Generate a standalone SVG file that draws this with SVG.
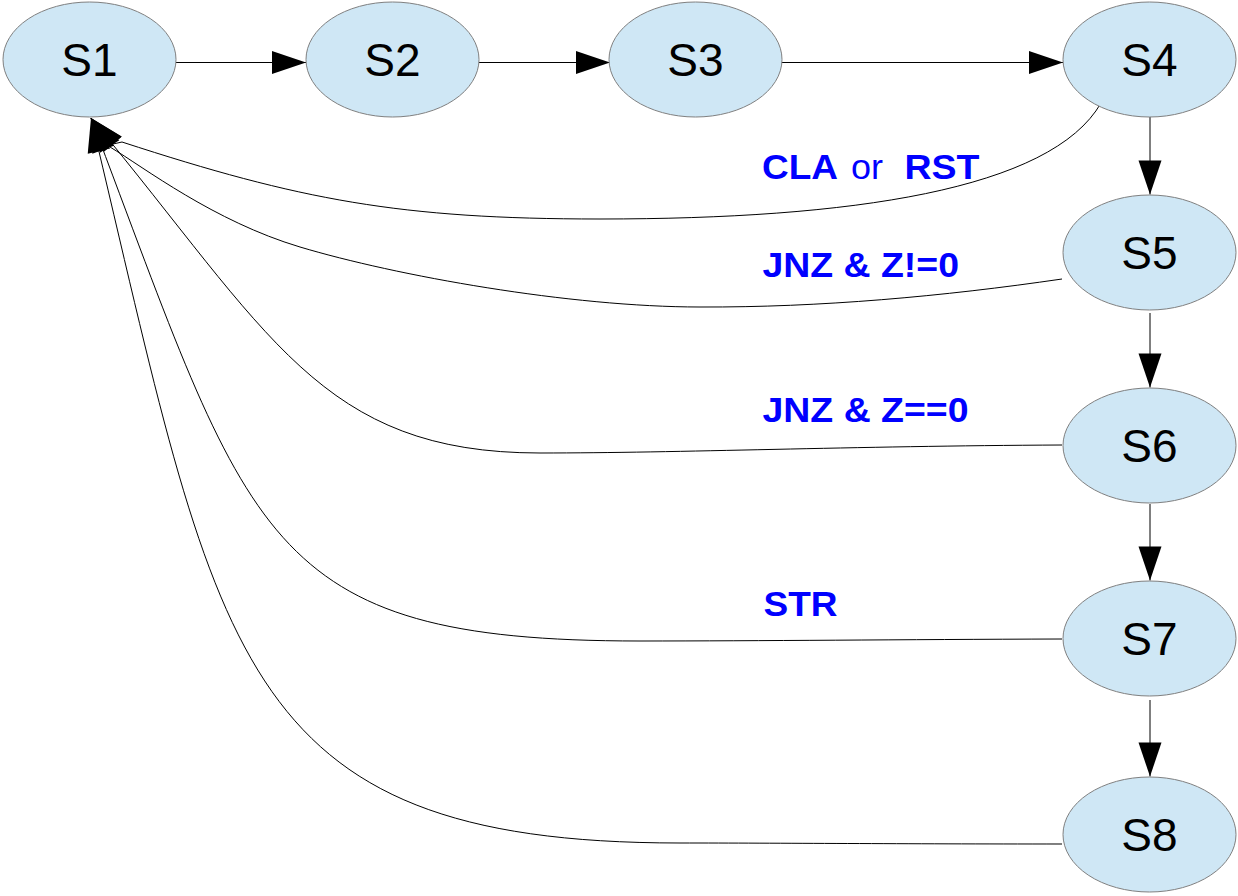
<svg xmlns="http://www.w3.org/2000/svg" width="1238" height="896" viewBox="0 0 1238 896">
<style>
.node ellipse{fill:#cfe7f5;stroke:#808080;stroke-width:1}
.node text{font-family:"Liberation Sans",Arial,sans-serif;font-size:46px;fill:#000;text-anchor:middle}
.edge{fill:none;stroke:#000;stroke-width:1;marker-end:url(#arr)}
.lbl{font-family:"Liberation Sans",Arial,sans-serif;font-size:35px;fill:#0000ff;font-weight:bold}
.lbl .n{font-weight:normal}
</style>
<defs>
<marker id="arr" markerUnits="userSpaceOnUse" markerWidth="34" markerHeight="23" viewBox="0 0 34 23" refX="34" refY="11.5" orient="auto" overflow="visible">
<path d="M0,0 L34,11.5 L0,23 z" fill="#000"/>
</marker>
</defs>
<rect width="1238" height="896" fill="#fff"/>
<g id="connectors">
<path class="edge" d="M176,62.5 H306"/>
<path class="edge" d="M479,62.5 H610"/>
<path class="edge" d="M781,62.5 H1063"/>
<path class="edge" d="M1150,117 V194.5"/>
<path class="edge" d="M1150,313 V387.5"/>
<path class="edge" d="M1150,504 V580.5"/>
<path class="edge" d="M1150,700 V776.5"/>
<path class="edge" d="M1101,103 C1051,190 850,219 600,219 C400,219 300,200 122,142 L113,144 L91,118"/>
<path class="edge" d="M1062,279 C943,296.4 820,307.5 700,307 C570,307 395.8,275.7 300,247 C213.8,221.2 144.3,167.6 110,147 L91,118"/>
<path class="edge" d="M1062,445 C850,446 680,453 540,453 C320,453 270,333.6 91,118"/>
<path class="edge" d="M1062,639 C900,639.5 760,641 640,641 C260,641 251,539 91,118"/>
<path class="edge" d="M1062,844 C900,844 780,843 680,843 C230,843 219,652.6 91,118"/>
</g>
<g id="labels">
<text class="lbl" y="179"><tspan x="762" textLength="76" lengthAdjust="spacingAndGlyphs">CLA</tspan><tspan class="n" x="851" textLength="32" lengthAdjust="spacingAndGlyphs">or</tspan><tspan x="904.5" textLength="75" lengthAdjust="spacingAndGlyphs">RST</tspan></text>
<text class="lbl" x="762.5" y="277" textLength="196.5" lengthAdjust="spacingAndGlyphs">JNZ &amp; Z!=0</text>
<text class="lbl" x="762.5" y="422" textLength="206" lengthAdjust="spacingAndGlyphs">JNZ &amp; Z==0</text>
<text class="lbl" x="763.5" y="616" textLength="74" lengthAdjust="spacingAndGlyphs">STR</text>
</g>
<g id="S1" class="node"><ellipse cx="89.5" cy="59.5" rx="86.5" ry="57.5"/><text x="89.5" y="76">S1</text></g>
<g id="S2" class="node"><ellipse cx="392.5" cy="59.5" rx="86.5" ry="57.5"/><text x="392.5" y="76">S2</text></g>
<g id="S3" class="node"><ellipse cx="695.5" cy="59.5" rx="86.5" ry="57.5"/><text x="695.5" y="76">S3</text></g>
<g id="S4" class="node"><ellipse cx="1149.5" cy="59.5" rx="86.5" ry="57.5"/><text x="1149.5" y="76">S4</text></g>
<g id="S5" class="node"><ellipse cx="1149.5" cy="252.5" rx="86.5" ry="57.5"/><text x="1149.5" y="269">S5</text></g>
<g id="S6" class="node"><ellipse cx="1149.5" cy="445.5" rx="86.5" ry="57.5"/><text x="1149.5" y="462">S6</text></g>
<g id="S7" class="node"><ellipse cx="1149.5" cy="638.5" rx="86.5" ry="57.5"/><text x="1149.5" y="655">S7</text></g>
<g id="S8" class="node"><ellipse cx="1149.5" cy="834.5" rx="86.5" ry="57.5"/><text x="1149.5" y="851">S8</text></g>
</svg>
